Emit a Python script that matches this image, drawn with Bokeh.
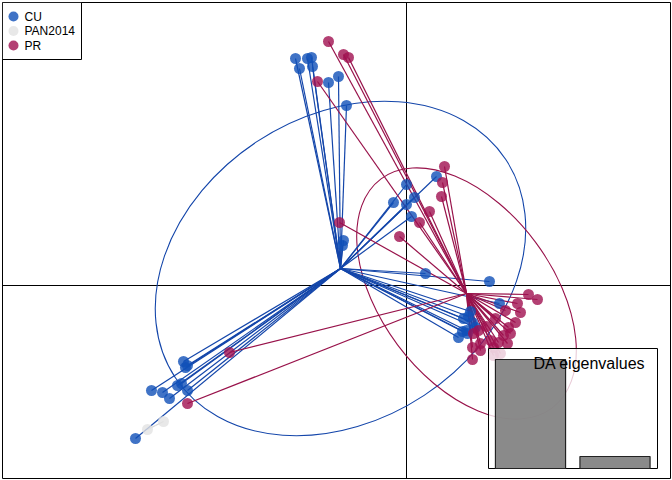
from bokeh.plotting import figure
from bokeh.models import Range1d, Span
from bokeh.core.properties import value
from bokeh.embed import file_html
from bokeh.resources import INLINE

# discriminant scores (LD1, LD2)
cu_x = [-2.22, -2.14, -1.98, -1.90, -1.88, -1.56, -1.36, -1.20,
        0.60, 0.00, -0.26, 0.00, 0.16, 0.10, -1.28, -1.26, 0.38, 1.66,
        1.86, 1.24, 1.12, 1.04, 1.20, 1.14, 1.28, 1.32, 1.38, 1.22,
        -4.46, -4.38, -4.42, -5.10, -4.88, -4.74, -4.58, -4.50, -4.38, -5.42]
cu_y = [4.54, 4.34, 4.54, 4.56, 4.38, 4.06, 4.18, 3.60,
        2.18, 2.02, 1.66, 1.62, 1.76, 1.38, 0.80, 0.90, 0.24, 0.08,
        -0.36, -0.62, -0.92, -1.04, -0.90, -0.66, -0.52, -0.74, -0.84, -0.96,
        -1.52, -1.60, -1.64, -2.10, -2.14, -2.26, -2.00, -1.96, -2.10, -3.06]

pr_x = [-1.56, -1.26, -1.16, -1.78, 0.76, 0.72, 0.70, 0.46, 0.26, -0.14,
        -1.34, -3.54, -4.38,
        2.44, 2.62, 2.22, 2.28, 2.18, 2.04, 2.08, 1.94, 1.84, 2.02, 1.68,
        1.48, 1.34, 1.74, 1.48, 1.32, 1.32, 1.88, 1.74, 1.60, 1.78, 1.98, 1.44]
pr_y = [4.88, 4.62, 4.56, 4.08, 2.38, 2.06, 1.78, 1.48, 1.26, 0.98,
        1.26, -1.34, -2.36,
        -0.18, -0.28, -0.36, -0.54, -0.74, -0.84, -0.96, -1.00, -1.14, -1.16, -1.10,
        -1.16, -0.96, -1.24, -1.30, -1.48, -1.24, -1.36, -1.40, -0.82, -0.66, -0.50, -0.90]

pan_x = [-5.18, -4.86]
pan_y = [-2.88, -2.72]

groups = ["CU", "PAN2014", "PR"]
centre_x = [-1.32, -5.02, 1.20]
centre_y = [0.34, -2.80, -0.16]

# group ellipses: full width, height, angle (deg)
ell_group = ["CU", "PR"]
ell_w = [7.92, 5.72]
ell_h = [6.08, 3.44]
ell_angle = [33.4, -53.3]

eig_values = [9.1, 1.0]

line_cols = {"CU": "#1446AA", "PAN2014": "#D6D6D6", "PR": "#98124A"}
fill_cols = {"CU": "#1050B8", "PAN2014": "#E2E2E2", "PR": "#A01050"}

font = "Liberation Sans"

p = figure(width=672, height=480, output_backend="svg", toolbar_location=None,
           x_range=Range1d(-8.08, 5.28), y_range=Range1d(-3.86, 5.66),
           x_axis_location=None, y_axis_location=None,
           min_border_left=2, min_border_right=2, min_border_top=2, min_border_bottom=2)
p.grid.visible = False
p.outline_line_color = "black"
p.outline_line_width = 1


# helpers: reference pixel position -> plot coordinates (frame is 2..670 x 2..478)
def px_x(px):
    return (px - 406) / 50.0


def px_y(py):
    return (285 - py) / 50.0


# axes through origin
p.add_layout(Span(location=0, dimension="height", line_color="black", line_width=1, level="underlay"))
p.add_layout(Span(location=0, dimension="width", line_color="black", line_width=1, level="underlay"))

# ellipses
for g, w, h, a in zip(ell_group, ell_w, ell_h, ell_angle):
    i = groups.index(g)
    p.ellipse(x=[centre_x[i]], y=[centre_y[i]], width=[w], height=[h],
              angle=[a], angle_units="deg", fill_alpha=0,
              line_color=line_cols[g], line_width=1.1)

data = {"CU": (cu_x, cu_y), "PAN2014": (pan_x, pan_y), "PR": (pr_x, pr_y)}

# stars from centroids
for g in ["PAN2014", "CU", "PR"]:
    xs, ys = data[g]
    i = groups.index(g)
    p.segment(x0=[centre_x[i]] * len(xs), y0=[centre_y[i]] * len(ys), x1=xs, y1=ys,
              line_color=line_cols[g], line_width=1.2)

# points
for g in ["PAN2014", "CU", "PR"]:
    xs, ys = data[g]
    p.scatter(xs, ys, size=11, marker="circle", fill_color=fill_cols[g],
              fill_alpha=0.8, line_color=None)

# legend box, top left
p.quad(left=[px_x(2)], right=[px_x(81)], top=[px_y(2)], bottom=[px_y(59)],
       fill_color="white", line_color="black", line_width=1)
leg_y = [px_y(16 + 14.5 * i) for i in range(len(groups))]
p.scatter([px_x(13)] * len(groups), leg_y, size=10, marker="circle",
          fill_color=[fill_cols[g] for g in groups], fill_alpha=0.8, line_color=None)
p.text([px_x(24)] * len(groups), leg_y, text=groups, text_baseline="middle",
       text_font=value(font), text_font_size="12px", text_color="black")

# eigenvalue inset
p.quad(left=[px_x(488)], right=[px_x(657)], top=[px_y(348)], bottom=[px_y(468)],
       fill_color="white", fill_alpha=0.78, line_color="black", line_width=1)

bar_step = 84.5
k = 109.0 / eig_values[0]
p.extra_x_ranges = {"eig_x": Range1d((2 - 530) / bar_step, (670 - 530) / bar_step)}
p.extra_y_ranges = {"eig_y": Range1d(-(478 - 468) / k, (468 - 2) / k)}
p.vbar(x=list(range(len(eig_values))), top=eig_values, bottom=0, width=0.83,
       x_range_name="eig_x", y_range_name="eig_y",
       fill_color="#808080", fill_alpha=0.92, line_color="#222222", line_width=1.2)

p.text([px_x(645)], [px_y(363)], text=["DA eigenvalues"],
       text_align="right", text_baseline="middle",
       text_font=value(font), text_font_size="16px", text_color="black")

open("out.html", "w").write(file_html(p, INLINE))
